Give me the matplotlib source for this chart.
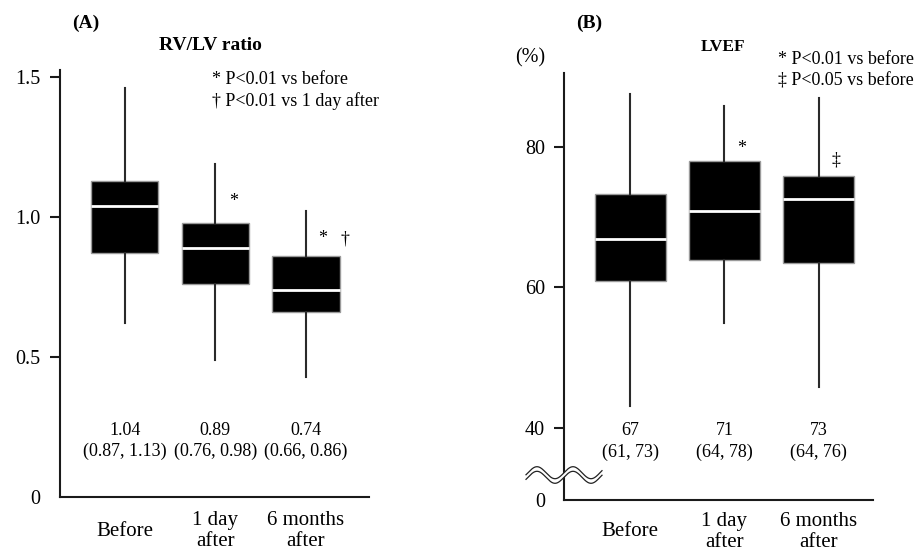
import matplotlib
matplotlib.use("Agg")
import matplotlib.pyplot as plt
import numpy as np

plt.rcParams['font.family'] = ['Liberation Serif', 'DejaVu Serif']

categories = ["Before", "1 day\nafter", "6 months\nafter"]

# Panel A: RV/LV ratio
a_med = [1.04, 0.89, 0.74]
a_q1 = [0.87, 0.76, 0.66]
a_q3 = [1.13, 0.98, 0.86]
a_lo = [0.62, 0.49, 0.43]
a_hi = [1.46, 1.19, 1.02]
a_labels = ["1.04\n(0.87, 1.13)", "0.89\n(0.76, 0.98)", "0.74\n(0.66, 0.86)"]
a_ticks = [0.5, 1.0, 1.5]

# Panel B: LVEF
b_med = [66.9, 70.8, 72.5]
b_q1 = [60.9, 63.9, 63.4]
b_q3 = [73.2, 78.0, 75.9]
b_lo = [43.1, 54.9, 45.8]
b_hi = [87.5, 85.8, 87.0]
b_labels = ["67\n(61, 73)", "71\n(64, 78)", "73\n(64, 76)"]
b_ticks = [40, 60, 80]

W, H = 920, 551
fig = plt.figure(figsize=(W / 100, H / 100), dpi=100)


def fx(px):
    return px / W


def fy(py):
    return 1 - py / H


def make_ax(left, right, top, bottom):
    return fig.add_axes([fx(left), fy(bottom), fx(right) - fx(left), fy(top) - fy(bottom)])


def draw_boxes(ax, med, q1, q3, lo, hi, width):
    stats = [dict(med=m, q1=a, q3=b, whislo=l, whishi=h, fliers=[])
             for m, a, b, l, h in zip(med, q1, q3, lo, hi)]
    ax.bxp(stats, positions=[1, 2, 3], widths=width, patch_artist=True,
           showcaps=False, showfliers=False,
           boxprops=dict(facecolor='black', edgecolor='#9a9a9a', linewidth=1.0),
           medianprops=dict(color='white', linewidth=2.0),
           whiskerprops=dict(color='#2a2a2a', linewidth=1.5))


def style(ax, pad):
    for s in ['top', 'right']:
        ax.spines[s].set_visible(False)
    for s in ['left', 'bottom']:
        ax.spines[s].set_linewidth(1.5)
        ax.spines[s].set_color('#1a1a1a')
    ax.tick_params(axis='y', length=7, width=1.5, pad=7, labelsize=14.5, color='#1a1a1a')
    ax.tick_params(axis='x', length=0, pad=pad, labelsize=15)
    ax.set_xticks([1, 2, 3])
    ax.set_xticklabels(categories, va='center', linespacing=1.2)


# ---------- Panel A ----------
axA = make_ax(60, 369, 70, 497)
draw_boxes(axA, a_med, a_q1, a_q3, a_lo, a_hi, 0.74)
axA.set_xlim(0.287, 3.695)
axA.set_ylim(0, 1.525)
style(axA, 24.5)
axA.set_yticks([0] + a_ticks)
axA.set_yticklabels(['0'] + [f"{t:.1f}" for t in a_ticks])
axA.yaxis.get_major_ticks()[0].tick1line.set_visible(False)
for i, t in enumerate(a_labels):
    l1, l2 = t.split("\n")
    axA.text(i + 1, 0.237, l1, ha='center', va='center', fontsize=13)
    axA.text(i + 1, 0.162, l2, ha='center', va='center', fontsize=13)

fig.text(fx(72), fy(23), "(A)", fontsize=14, fontweight='bold', ha='left', va='center')
fig.text(fx(210.5), fy(45), "RV/LV ratio", fontsize=14, fontweight='bold', ha='center', va='center')
fig.text(fx(212), fy(80), "* P<0.01 vs before", fontsize=13, ha='left', va='center')
fig.text(fx(212), fy(101), "\u2020 P<0.01 vs 1 day after", fontsize=13, ha='left', va='center')
fig.text(fx(234), fy(202), "*", fontsize=13, ha='center', va='center')
fig.text(fx(323), fy(239), "*", fontsize=13, ha='center', va='center')
fig.text(fx(345), fy(239), "\u2020", fontsize=13, ha='center', va='center')

# ---------- Panel B ----------
axB = make_ax(564.3, 873, 73, 500)
draw_boxes(axB, b_med, b_q1, b_q3, b_lo, b_hi, 0.748)
axB.set_xlim(0.30, 3.576)
yb0 = 29.7
axB.set_ylim(yb0, 90.5)
style(axB, 23)
axB.set_yticks([yb0] + b_ticks)
axB.set_yticklabels(['0'] + [str(t) for t in b_ticks])
axB.yaxis.get_major_ticks()[0].tick1line.set_visible(False)
for i, t in enumerate(b_labels):
    l1, l2 = t.split("\n")
    axB.text(i + 1, 39.57, l1, ha='center', va='center', fontsize=13)
    axB.text(i + 1, 36.54, l2, ha='center', va='center', fontsize=13)

fig.text(fx(575.7), fy(23), "(B)", fontsize=14, fontweight='bold', ha='left', va='center')
fig.text(fx(723.5), fy(47), "LVEF", fontsize=12.5, fontweight='bold', ha='center', va='center')
fig.text(fx(530), fy(58), "(%)", fontsize=14.5, ha='center', va='center')
fig.text(fx(778), fy(60), "* P<0.01 vs before", fontsize=13, ha='left', va='center')
fig.text(fx(778), fy(81), "\u2021 P<0.05 vs before", fontsize=13, ha='left', va='center')
fig.text(fx(742), fy(148), "*", fontsize=13, ha='center', va='center')
fig.text(fx(836), fy(160), "\u2021", fontsize=13, ha='center', va='center')

# axis break symbol (decoration)
xs = np.linspace(526, 602, 200)
yc = 475 - 6 * np.sin((xs - 528) / 36 * 2 * np.pi)
y_up = yc - 2.3
y_dn = yc + 2.3
fig.patches.append(plt.Polygon(
    np.column_stack([np.concatenate([fx(xs), fx(xs[::-1])]),
                     np.concatenate([fy(y_up), fy(y_dn[::-1])])]),
    closed=True, facecolor='white', edgecolor='none', transform=fig.transFigure, zorder=10))
for yy in (y_up, y_dn):
    fig.lines.append(plt.Line2D(fx(xs), fy(yy), color='#222222', linewidth=0.9,
                                transform=fig.transFigure, zorder=11))

fig.savefig("out.png", dpi=100)
